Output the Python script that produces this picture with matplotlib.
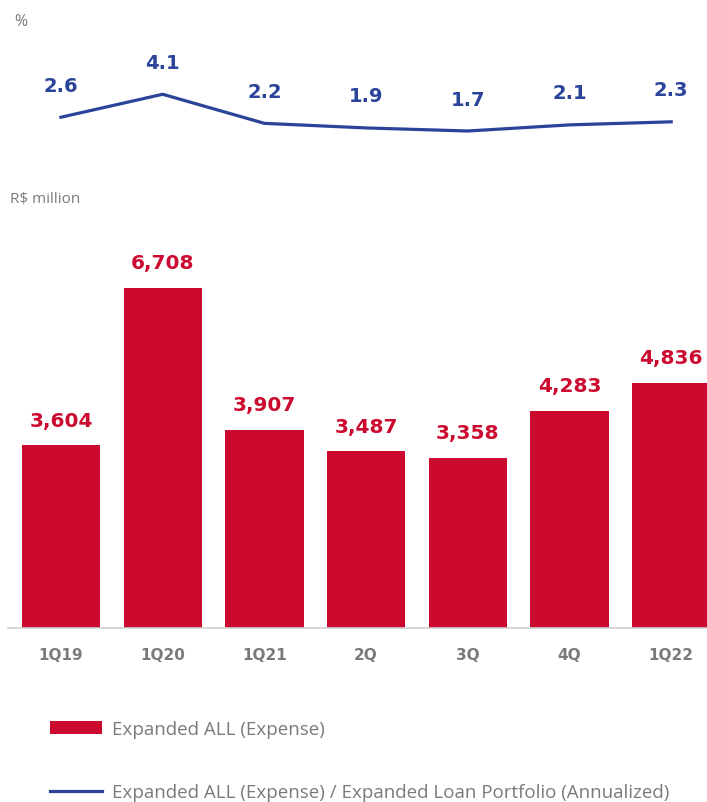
import matplotlib
matplotlib.use("Agg")
import matplotlib.pyplot as plt
from matplotlib.patches import Patch
from matplotlib.lines import Line2D

categories = ["1Q19", "1Q20", "1Q21", "2Q", "3Q", "4Q", "1Q22"]
expense = [3604, 6708, 3907, 3487, 3358, 4283, 4836]
ratio = [2.6, 4.1, 2.2, 1.9, 1.7, 2.1, 2.3]
expense_labels = ["3,604", "6,708", "3,907", "3,487", "3,358", "4,283", "4,836"]
ratio_labels = ["2.6", "4.1", "2.2", "1.9", "1.7", "2.1", "2.3"]

RED = "#CC0A2F"
BLUE = "#2B449A"
GRAY = "#7A7A7A"

W, H = 707, 803
fig = plt.figure(figsize=(W / 100, H / 100), dpi=100)

def fx(px):
    return px / W

def fy(px):
    return 1 - px / H

x = list(range(len(categories)))
xl = (-0.521, 6.352)

# bars axis: from y=230 to y=629 px, x from 8 to 707
axb = fig.add_axes([fx(8), fy(629), fx(699), 399 / H])
axb.bar(x, expense, width=0.77, color=RED)
axb.set_xlim(*xl)
axb.set_ylim(0, 7870)
for s in ["top", "right", "left"]:
    axb.spines[s].set_visible(False)
axb.spines["bottom"].set_color("#D0D0D0")
axb.spines["bottom"].set_linewidth(1.2)
axb.set_yticks([])
axb.set_xticks(x)
axb.set_xticklabels(categories, fontsize=11, fontweight="bold", color=GRAY)
axb.tick_params(axis="x", length=0, pad=14)
for xi, v, lab in zip(x, expense, expense_labels):
    axb.annotate(lab, (xi, v), xytext=(0, 18), textcoords="offset points",
                 ha="center", va="center", fontsize=14.5, fontweight="bold", color=RED)

# line axis: from y=42 to y=162 px
axl = fig.add_axes([fx(8), fy(162), fx(699), 120 / H])
axl.plot(x, ratio, color=BLUE, linewidth=2.3, solid_joinstyle="miter")
axl.set_xlim(*xl)
axl.set_ylim(-0.26, 7.58)
axl.axis("off")
for xi, v, lab in zip(x, ratio, ratio_labels):
    axl.annotate(lab, (xi, v), xytext=(0, 23), textcoords="offset points",
                 ha="center", va="center", fontsize=14, fontweight="bold", color=BLUE)

fig.text(fx(14), fy(22), "%", fontsize=11.5, color=GRAY, ha="left", va="center",
         family="Open Sans")
fig.text(fx(10), fy(200), "R$ million", fontsize=11, color=GRAY, ha="left", va="center",
         family="Open Sans")

handles = [Patch(facecolor=RED, edgecolor="none"),
           Line2D([0], [0], color=BLUE, linewidth=2.3)]
labels = ["Expanded ALL (Expense)",
          "Expanded ALL (Expense) / Expanded Loan Portfolio (Annualized)"]
leg = fig.legend(handles, labels, loc="upper left",
                 bbox_to_anchor=(fx(50), fy(721)), frameon=False,
                 prop={"family": "Open Sans", "size": 13.5},
                 handlelength=2.77, handletextpad=0.53, labelspacing=2.42,
                 borderpad=0, borderaxespad=0)
for t in leg.get_texts():
    t.set_color(GRAY)

fig.savefig("out.png", dpi=100)
